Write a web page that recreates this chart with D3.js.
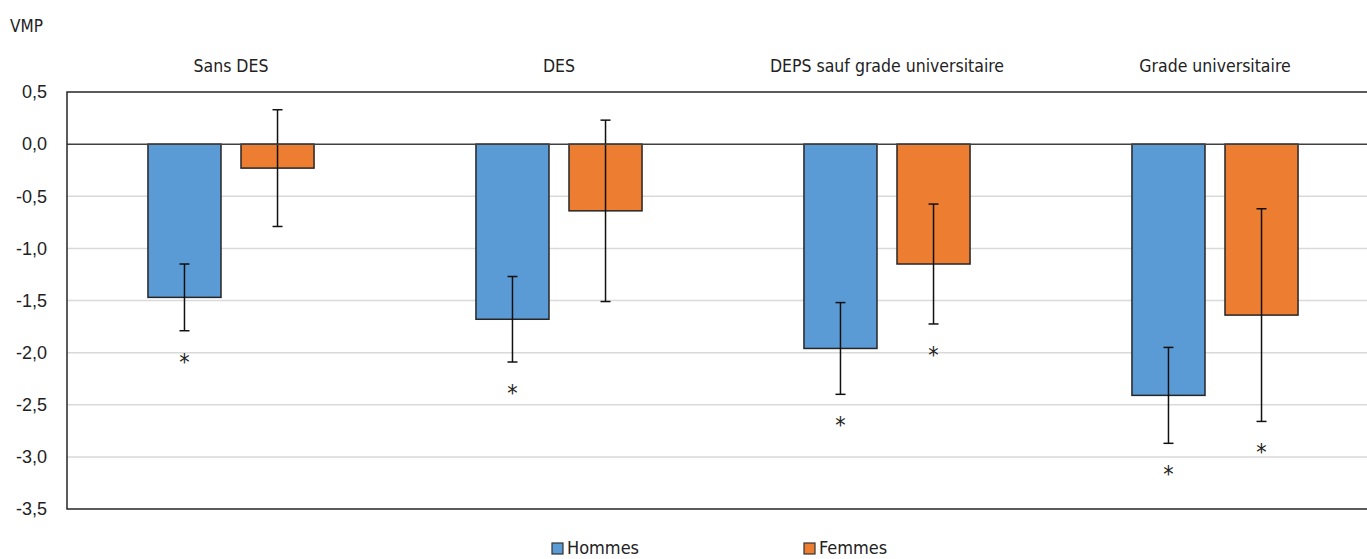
<!DOCTYPE html>
<html>
<head>
<meta charset="utf-8">
<script src="https://cdn.jsdelivr.net/npm/d3@7"></script>
<style>
  body { margin: 0; background: #fff; }
  svg { display: block; font-family: "Liberation Sans Narrow", "DejaVu Sans Condensed", "Arial Narrow", sans-serif; }
  .grid line { stroke: #d9d9d9; stroke-width: 1.5; }
  .axis-y text { font-size: 18px; fill: #222; }
</style>
</head>
<body>
<div id="chart"></div>
<script>
// data
const categories = ['Sans DES', 'DES', 'DEPS sauf grade universitaire', 'Grade universitaire'];
const seriesNames = ['Hommes', 'Femmes'];
const hommes = [-1.47, -1.68, -1.96, -2.41];
const femmes = [-0.23, -0.64, -1.15, -1.64];
const hommesErr = [0.32, 0.41, 0.44, 0.46];
const femmesErr = [0.56, 0.87, 0.575, 1.02];
const hommesSig = [true, true, true, true];
const femmesSig = [false, false, true, true];
const yTicks = [0.5, 0, -0.5, -1, -1.5, -2, -2.5, -3, -3.5];
const colors = ['#5b9bd5', '#ed7d31'];

const W = 1367, H = 559;
const margin = { top: 92, left: 67 };
const width = 1312, height = 417;

const svg = d3.select('#chart').append('svg')
  .attr('width', W)
  .attr('height', H);

const g = svg.append('g')
  .attr('transform', `translate(${margin.left}, ${margin.top})`);

const x0 = d3.scaleBand().domain(categories).range([0, width]).padding(0);
const x1 = d3.scaleBand().domain(seriesNames).range([0, x0.bandwidth()])
  .paddingInner(0.215).paddingOuter(0.87);
const y = d3.scaleLinear().domain([-3.5, 0.5]).range([height, 0]);

// gridlines
g.append('g').attr('class', 'grid')
  .selectAll('line')
  .data(yTicks.filter(t => t !== 0 && t !== 0.5 && t !== -3.5))
  .enter().append('line')
  .attr('x1', 0).attr('x2', width)
  .attr('y1', d => y(d)).attr('y2', d => y(d));

// y axis labels
const yAxis = g.append('g').attr('class', 'axis-y')
  .call(d3.axisLeft(y).tickValues(yTicks).tickSize(0).tickPadding(20)
    .tickFormat(d => d3.format('.1f')(d).replace('.', ',').replace('−', '-')));
yAxis.select('.domain').remove();

// rows
const rows = categories.map((c, i) => ({
  cat: c,
  vals: [
    { s: seriesNames[0], v: hommes[i], e: hommesErr[i], sig: hommesSig[i], c: colors[0] },
    { s: seriesNames[1], v: femmes[i], e: femmesErr[i], sig: femmesSig[i], c: colors[1] }
  ]
}));

const groups = g.selectAll('.grp')
  .data(rows)
  .enter().append('g')
  .attr('class', 'grp')
  .attr('transform', d => `translate(${x0(d.cat)}, 0)`);

groups.selectAll('rect')
  .data(d => d.vals)
  .enter().append('rect')
  .attr('x', d => x1(d.s))
  .attr('y', d => y(Math.max(0, d.v)))
  .attr('width', x1.bandwidth())
  .attr('height', d => Math.abs(y(d.v) - y(0)))
  .attr('fill', d => d.c)
  .attr('stroke', '#262626')
  .attr('stroke-width', 1.5);

// zero line
g.append('line')
  .attr('x1', 0).attr('x2', width)
  .attr('y1', y(0)).attr('y2', y(0))
  .attr('stroke', '#404040').attr('stroke-width', 1.5);

// error bars
const err = groups.selectAll('.err')
  .data(d => d.vals)
  .enter().append('g')
  .attr('class', 'err')
  .attr('transform', d => `translate(${x1(d.s) + x1.bandwidth() / 2}, 0)`);

err.append('line')
  .attr('y1', d => y(d.v + d.e)).attr('y2', d => y(d.v - d.e))
  .attr('stroke', '#111').attr('stroke-width', 1.5);
err.selectAll('.cap')
  .data(d => [d.v + d.e, d.v - d.e])
  .enter().append('line')
  .attr('x1', -5).attr('x2', 5)
  .attr('y1', d => y(d)).attr('y2', d => y(d))
  .attr('stroke', '#111').attr('stroke-width', 1.5);

// significance markers
err.filter(d => d.sig).append('text')
  .attr('y', d => y(d.v - d.e) + 39)
  .attr('text-anchor', 'middle')
  .style('font-size', '23px')
  .attr('fill', '#222')
  .text('*');

// plot border (top, left, bottom)
g.append('path')
  .attr('d', `M${width},0H0V${height}H${width}`)
  .attr('fill', 'none')
  .attr('stroke', '#262626')
  .attr('stroke-width', 1.5);

// category labels
g.selectAll('.cat')
  .data(categories)
  .enter().append('text')
  .attr('x', d => x0(d) + x0.bandwidth() / 2)
  .attr('y', -20)
  .attr('text-anchor', 'middle')
  .style('font-size', '17.5px')
  .attr('fill', '#222')
  .text(d => d);

// unit label
svg.append('text')
  .attr('x', 10).attr('y', 32)
  .style('font-size', '17px')
  .attr('fill', '#222')
  .text('VMP');

// legend
const legendX = d3.scalePoint().domain(seriesNames).range([552, 804]);
const leg = svg.selectAll('.leg')
  .data(seriesNames)
  .enter().append('g')
  .attr('transform', d => `translate(${legendX(d)}, 543)`);
leg.append('rect')
  .attr('width', 11).attr('height', 11)
  .attr('fill', (d, i) => colors[i])
  .attr('stroke', '#333').attr('stroke-width', 1.2);
leg.append('text')
  .attr('x', 15).attr('y', 11)
  .style('font-size', '18px')
  .attr('fill', '#222')
  .text(d => d);
</script>
</body>
</html>
